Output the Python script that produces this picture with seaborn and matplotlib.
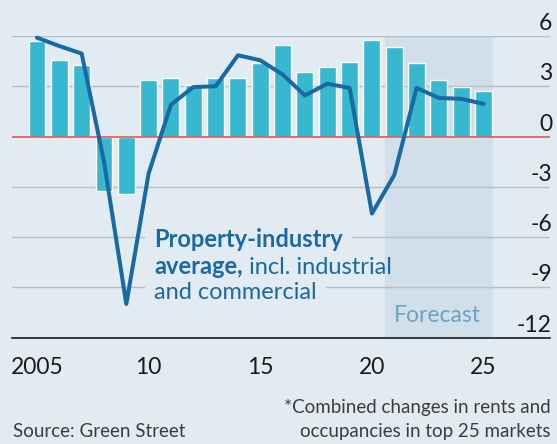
import matplotlib
matplotlib.use("Agg")
import matplotlib.pyplot as plt
import matplotlib.transforms as mtransforms
import numpy as np
import pandas as pd
import seaborn as sns

# Annual data, 2005-2025 (2021 onwards is a forecast)
years = list(range(2005, 2026))
sector_change = [5.7, 4.55, 4.25, -3.25, -3.45, 3.35, 3.5, 3.05, 3.5, 3.5,
                 4.4, 5.45, 3.85, 4.15, 4.45, 5.75, 5.35, 4.4, 3.35, 2.95, 2.7]
industry_avg = [5.9, 5.4, 4.95, -1.5, -10.0, -2.2, 1.9, 2.95, 3.0, 4.85,
                4.55, 3.7, 2.45, 3.15, 2.9, -4.6, -2.3, 2.9, 2.3, 2.25, 1.95]
y_ticks = [6, 3, 0, -3, -6, -9, -12]
x_major = [2005, 2010, 2015, 2020, 2025]
x_major_labels = ["2005", "10", "15", "20", "25"]
forecast_span = (2020.6, 2025.4)

df = pd.DataFrame({"year": years, "sector": sector_change, "average": industry_avg})

BG = "#e2ebf1"
BAR = "#38b8cf"
LINE = "#1b69a3"
GRID = "#b7bec4"
ZERO = "#e0564f"
SHADE = "#d0dfe9"
TEXT = "#1a1a1a"
FOOT = "#3c3c3c"

sns.set_theme(style="white")
plt.rcParams["font.family"] = ["Lato", "DejaVu Sans"]

W, H = 557, 444
fig = plt.figure(figsize=(W / 100, H / 100), dpi=100, facecolor=BG)

# plot area in pixels
px_left, px_right, px_top, px_bottom = 12, 550, 36, 337.5
ax = fig.add_axes([px_left / W, 1 - px_bottom / H,
                   (px_right - px_left) / W, (px_bottom - px_top) / H])
ax.set_facecolor(BG)

# forecast shading
ax.axvspan(*forecast_span, color=SHADE, zorder=0.3, lw=0)

# grid lines
for v in y_ticks:
    if v == 0 or v == y_ticks[-1]:
        continue
    ax.axhline(v, color=GRID, lw=1.0, zorder=0.5)

sns.barplot(data=df, x="year", y="sector", native_scale=True, width=0.76,
            color=BAR, saturation=1, ax=ax, zorder=2)
ax.axhline(0, color=ZERO, lw=1.2, zorder=3)
sns.lineplot(data=df, x="year", y="average", color=LINE, lw=2.9, ax=ax,
             zorder=4, clip_on=False)

yr_px = (px_right - px_left)
ax.set_xlim(2005 - 25 / 22.33, 2005 + 513 / 22.33)
ax.set_ylim(-12, 6)

for s in ["top", "right", "left"]:
    ax.spines[s].set_visible(False)
ax.spines["bottom"].set_color(TEXT)
ax.spines["bottom"].set_linewidth(1.2)

ax.set_xticks(x_major)
ax.set_xticklabels(x_major_labels)
ax.set_xticks(years, minor=True)
ax.tick_params(axis="x", which="major", direction="out", length=8, width=1.1,
               color=TEXT, pad=6, labelsize=16.5, labelcolor=TEXT)
ax.tick_params(axis="x", which="minor", direction="out", length=5, width=1.1,
               color=TEXT)
ax.set_yticks([])
ax.set_xlabel("")
ax.set_ylabel("")

# y-axis values sit above the grid lines at the right
ylab_tr = mtransforms.offset_copy(
    mtransforms.blended_transform_factory(fig.transFigure, ax.transData),
    fig=fig, x=0, y=2, units="dots")
for v in y_ticks:
    ax.text(552 / W, v, f"{v}", transform=ylab_tr, ha="right", va="bottom",
            fontsize=16.5, color=TEXT, clip_on=False)

# series label
box = dict(boxstyle="square,pad=0.4", fc=BG, ec="none")
lx = 2010.24
t1 = ax.text(lx, -6.58, "Property-industry", ha="left", va="baseline",
             fontsize=17, fontweight="bold", color=LINE, bbox=box, zorder=5)
t3 = ax.text(lx, -9.71, "and commercial", ha="left", va="baseline",
             fontsize=17, color=LINE, bbox=box, zorder=5)
t2 = ax.text(lx, -8.18, "average,", ha="left", va="baseline",
             fontsize=17, fontweight="bold", color=LINE, zorder=5)
ax.annotate(" incl. industrial", xy=(1, 0), xycoords=t2, ha="left", va="bottom",
            fontsize=17, color=LINE, zorder=5)

ax.text(np.mean(forecast_span) - 0.05, -11.06, "Forecast", ha="center",
        va="baseline", fontsize=16.5, color="#6ea2c3", zorder=5)

# footer
fig.text(13 / W, 1 - 437 / H, "Source: Green Street", ha="left", va="baseline",
         fontsize=13.5, color=FOOT)
fig.text(551 / W, 1 - 413 / H, "*Combined changes in rents and", ha="right",
         va="baseline", fontsize=13.5, color=FOOT)
fig.text(551 / W, 1 - 437 / H, "occupancies in top 25 markets", ha="right",
         va="baseline", fontsize=13.5, color=FOOT)

fig.savefig("out.png", dpi=100, facecolor=BG)
